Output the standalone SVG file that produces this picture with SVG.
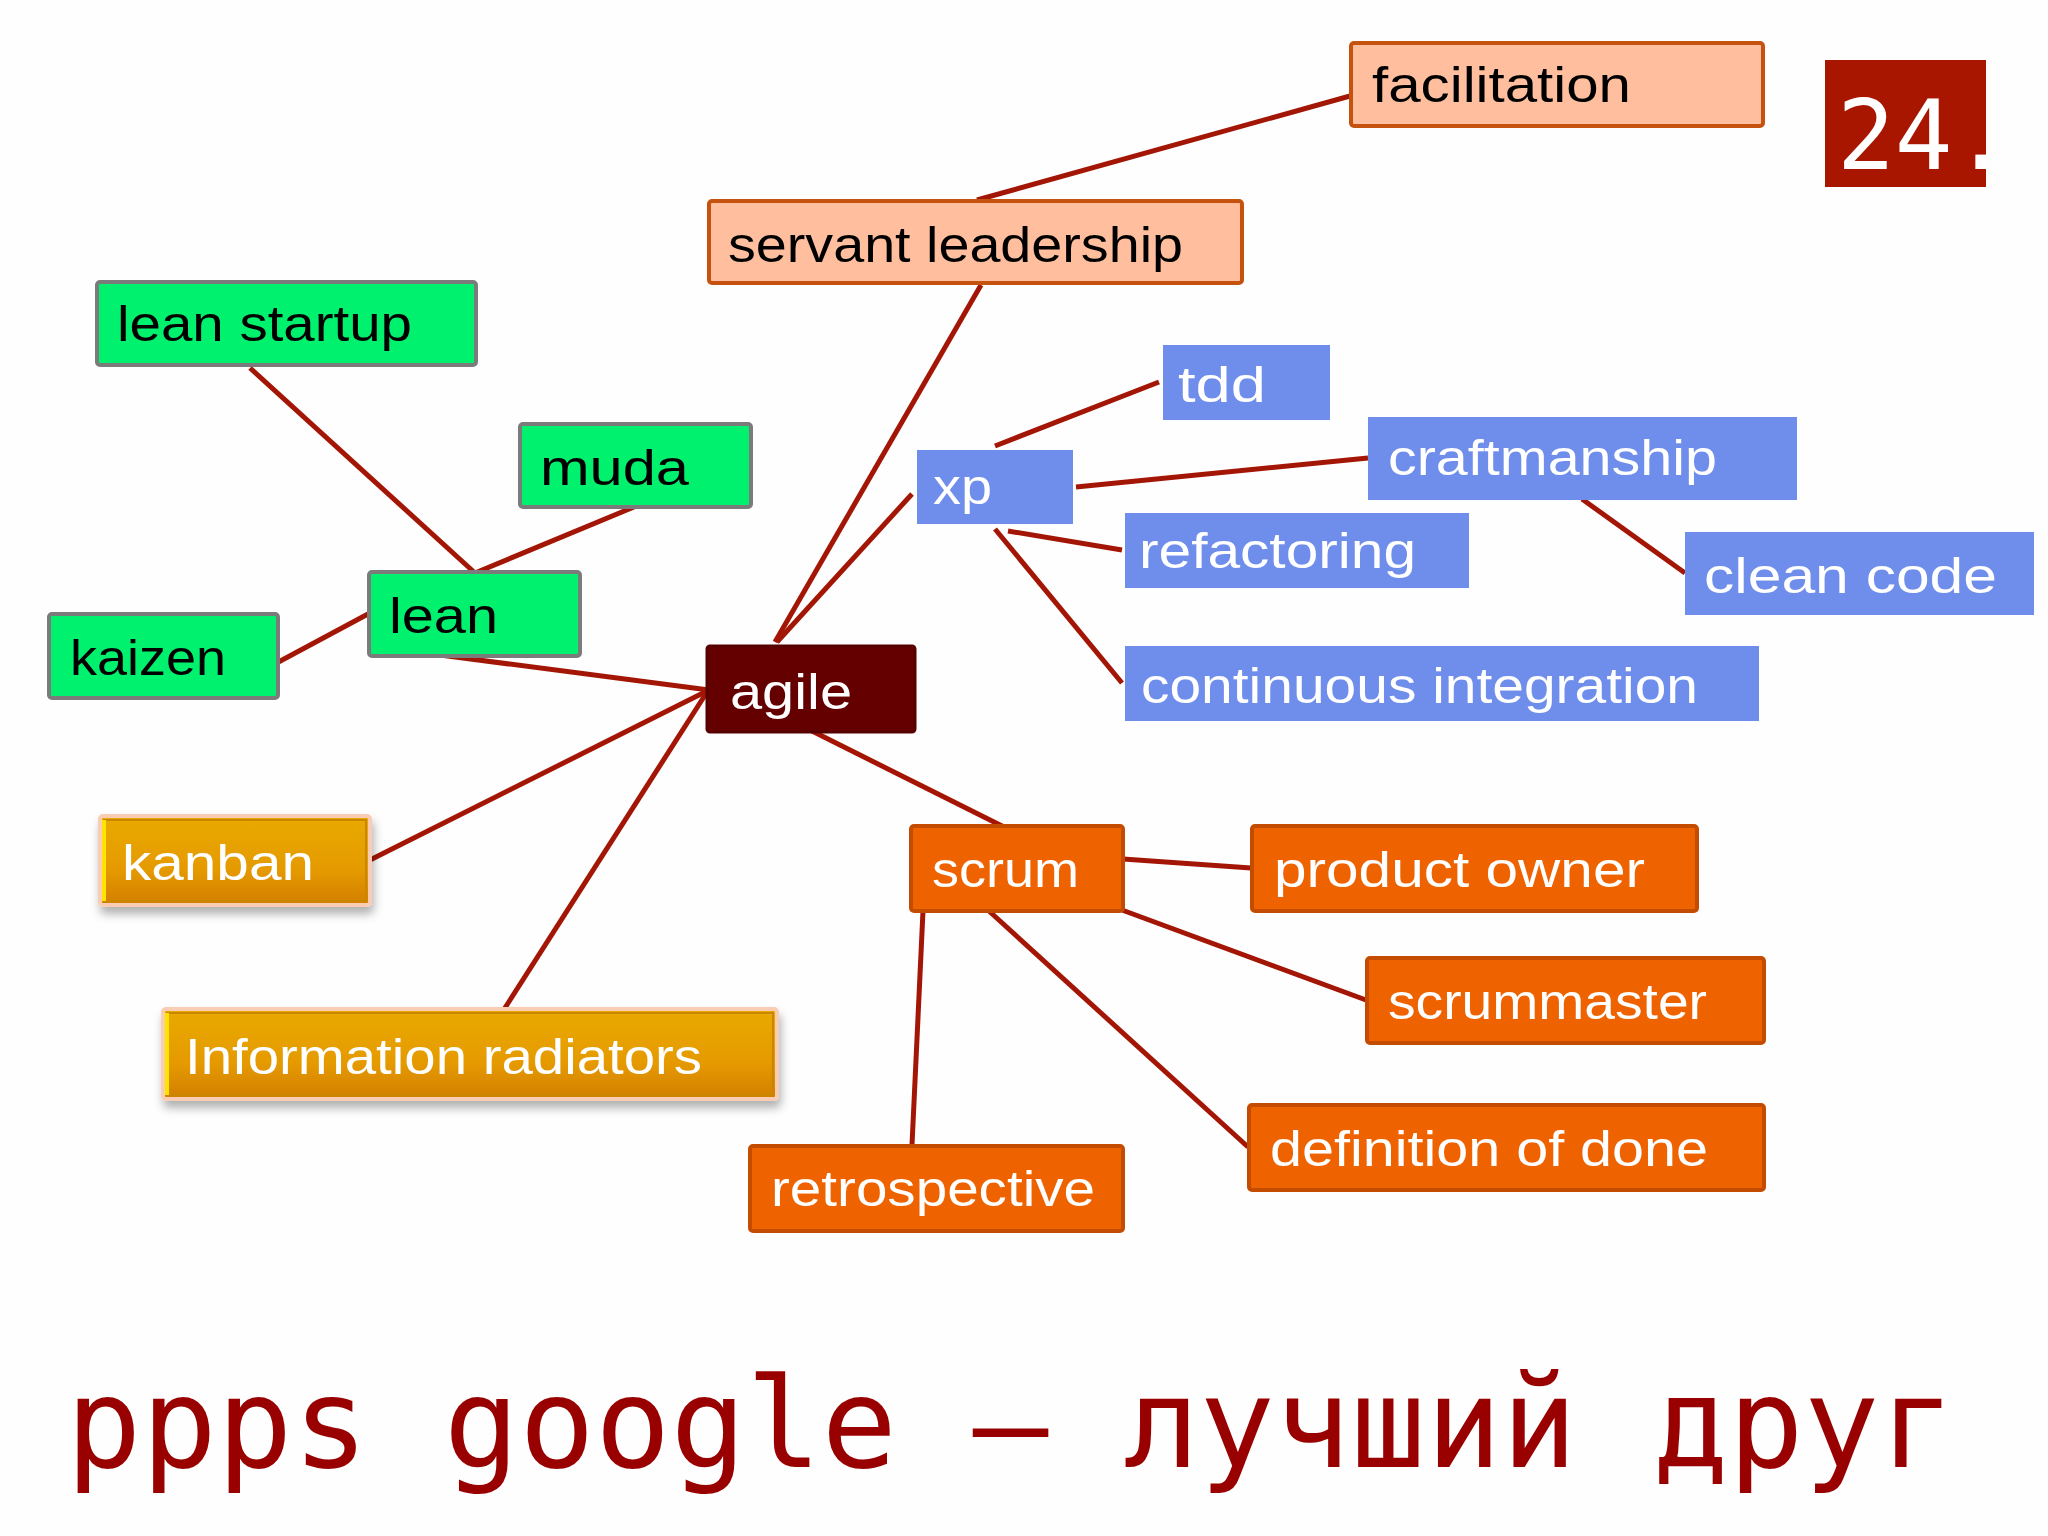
<svg xmlns="http://www.w3.org/2000/svg" width="2048" height="1536" viewBox="0 0 2048 1536">
<defs>
<linearGradient id="gold" x1="0" y1="0" x2="0" y2="1">
<stop offset="0" stop-color="#E9AA00"/>
<stop offset="0.6" stop-color="#E59A00"/>
<stop offset="1" stop-color="#D27E00"/>
</linearGradient>
<filter id="shadow" x="-10%" y="-20%" width="125%" height="160%">
<feDropShadow dx="2" dy="7" stdDeviation="5" flood-color="#000" flood-opacity="0.3"/>
</filter>
<style>
.bg{fill:#FEFEFE}
.conn line{stroke:#A31605;stroke-width:5;stroke-linecap:butt}
.lbl{font-family:"Liberation Sans",Arial,sans-serif;font-size:50px}
.green rect{fill:#00F16E;stroke:#7B7B7B;stroke-width:4}
.green text{fill:#000}
.peach rect{fill:#FFBF9F;stroke:#C5520F;stroke-width:4}
.peach text{fill:#000}
.blue rect{fill:#6F8DEB}
.blue text{fill:#FFF}
.orange rect{fill:#EE6200;stroke:#C44C00;stroke-width:4}
.orange text{fill:#FFF}
.gold .outer{fill:url(#gold);stroke:#F8CDB4;stroke-width:4;filter:url(#shadow)}
.gold .inner{fill:none;stroke:#C98600;stroke-width:2}
.gold .edge{stroke:#FFE400;stroke-width:4}
.gold text{fill:#FFF}
.dark rect{fill:#640000;stroke:#560000;stroke-width:3}
.dark text{fill:#FFF}
</style>
</defs>
<rect class="bg" x="0" y="0" width="2048" height="1536"/>

<g id="connectors" class="conn">
<line x1="977" y1="200" x2="1350" y2="96"/>
<line x1="981" y1="285" x2="775" y2="642"/>
<line x1="912" y1="494" x2="777" y2="642"/>
<line x1="250" y1="368" x2="475" y2="573"/>
<line x1="634" y1="507" x2="475" y2="573"/>
<line x1="271" y1="666" x2="368" y2="614"/>
<line x1="440" y1="655" x2="709" y2="690"/>
<line x1="709" y1="690" x2="370" y2="860"/>
<line x1="707" y1="692" x2="503" y2="1011"/>
<line x1="812" y1="731" x2="1004" y2="827"/>
<line x1="995" y1="446" x2="1159" y2="382"/>
<line x1="1076" y1="487" x2="1368" y2="458"/>
<line x1="1008" y1="531" x2="1122" y2="550"/>
<line x1="995" y1="529" x2="1122" y2="683"/>
<line x1="1582" y1="499" x2="1685" y2="573"/>
<line x1="1123" y1="859" x2="1251" y2="868"/>
<line x1="1122" y1="910" x2="1366" y2="1000"/>
<line x1="989" y1="911" x2="1248" y2="1147"/>
<line x1="923" y1="911" x2="912" y2="1145"/>
</g>

<g id="node-facilitation" class="peach">
<rect x="1351" y="43" width="412" height="83" rx="3"/>
<text class="lbl" x="1372" y="102" textLength="259" lengthAdjust="spacingAndGlyphs">facilitation</text>
</g>
<g id="node-servant-leadership" class="peach">
<rect x="709" y="201" width="533" height="82" rx="3"/>
<text class="lbl" x="728" y="262" textLength="455" lengthAdjust="spacingAndGlyphs">servant leadership</text>
</g>
<g id="node-lean-startup" class="green">
<rect x="97" y="282" width="379" height="83" rx="3"/>
<text class="lbl" x="117" y="341" textLength="295" lengthAdjust="spacingAndGlyphs">lean startup</text>
</g>
<g id="node-muda" class="green">
<rect x="520" y="424" width="231" height="83" rx="3"/>
<text class="lbl" x="540" y="485" textLength="149" lengthAdjust="spacingAndGlyphs">muda</text>
</g>
<g id="node-lean" class="green">
<rect x="369" y="572" width="211" height="84" rx="3"/>
<text class="lbl" x="389" y="633" textLength="109" lengthAdjust="spacingAndGlyphs">lean</text>
</g>
<g id="node-kaizen" class="green">
<rect x="49" y="614" width="229" height="84" rx="3"/>
<text class="lbl" x="70" y="675" textLength="156" lengthAdjust="spacingAndGlyphs">kaizen</text>
</g>
<g id="node-agile" class="dark">
<rect x="707" y="646" width="208" height="86" rx="3"/>
<text class="lbl" x="730" y="709" textLength="122" lengthAdjust="spacingAndGlyphs">agile</text>
</g>
<g id="node-xp" class="blue">
<rect x="917" y="450" width="156" height="74"/>
<text class="lbl" x="933" y="504" textLength="59" lengthAdjust="spacingAndGlyphs">xp</text>
</g>
<g id="node-tdd" class="blue">
<rect x="1163" y="345" width="167" height="75"/>
<text class="lbl" x="1178" y="402" textLength="88" lengthAdjust="spacingAndGlyphs">tdd</text>
</g>
<g id="node-craftmanship" class="blue">
<rect x="1368" y="417" width="429" height="83"/>
<text class="lbl" x="1388" y="475" textLength="329" lengthAdjust="spacingAndGlyphs">craftmanship</text>
</g>
<g id="node-refactoring" class="blue">
<rect x="1125" y="513" width="344" height="75"/>
<text class="lbl" x="1139" y="568" textLength="277" lengthAdjust="spacingAndGlyphs">refactoring</text>
</g>
<g id="node-clean-code" class="blue">
<rect x="1685" y="532" width="349" height="83"/>
<text class="lbl" x="1704" y="593" textLength="293" lengthAdjust="spacingAndGlyphs">clean code</text>
</g>
<g id="node-continuous-integration" class="blue">
<rect x="1125" y="646" width="634" height="75"/>
<text class="lbl" x="1141" y="703" textLength="557" lengthAdjust="spacingAndGlyphs">continuous integration</text>
</g>
<g id="node-kanban" class="gold">
<rect class="outer" x="100" y="816" width="270" height="89" rx="3"/>
<rect class="inner" x="104" y="820" width="262" height="81"/>
<line class="edge" x1="104" y1="820" x2="104" y2="901"/>
<text class="lbl" x="122" y="880" textLength="192" lengthAdjust="spacingAndGlyphs">kanban</text>
</g>
<g id="node-information-radiators" class="gold">
<rect class="outer" x="163" y="1009" width="614" height="90" rx="3"/>
<rect class="inner" x="167" y="1013" width="606" height="82"/>
<line class="edge" x1="167" y1="1013" x2="167" y2="1095"/>
<text class="lbl" x="185" y="1074" textLength="517" lengthAdjust="spacingAndGlyphs">Information radiators</text>
</g>
<g id="node-scrum" class="orange">
<rect x="911" y="826" width="212" height="85" rx="3"/>
<text class="lbl" x="932" y="887" textLength="147" lengthAdjust="spacingAndGlyphs">scrum</text>
</g>
<g id="node-retrospective" class="orange">
<rect x="750" y="1146" width="373" height="85" rx="3"/>
<text class="lbl" x="771" y="1206" textLength="324" lengthAdjust="spacingAndGlyphs">retrospective</text>
</g>
<g id="node-product-owner" class="orange">
<rect x="1252" y="826" width="445" height="85" rx="3"/>
<text class="lbl" x="1274" y="887" textLength="371" lengthAdjust="spacingAndGlyphs">product owner</text>
</g>
<g id="node-scrummaster" class="orange">
<rect x="1367" y="958" width="397" height="85" rx="3"/>
<text class="lbl" x="1388" y="1019" textLength="319" lengthAdjust="spacingAndGlyphs">scrummaster</text>
</g>
<g id="node-definition-of-done" class="orange">
<rect x="1249" y="1105" width="515" height="85" rx="3"/>
<text class="lbl" x="1270" y="1166" textLength="438" lengthAdjust="spacingAndGlyphs">definition of done</text>
</g>

<g id="badge">
<rect x="1825" y="60" width="161" height="127" fill="#A81600"/>
<text x="1837" y="169" font-family="DejaVu Sans Mono,monospace" font-size="96" fill="#FFF">24.</text>
</g>

<g id="caption">
<text x="66" y="1467" font-family="DejaVu Sans Mono,monospace" font-size="125.5" fill="#990000">ppps google – лучший друг</text>
</g>
</svg>
